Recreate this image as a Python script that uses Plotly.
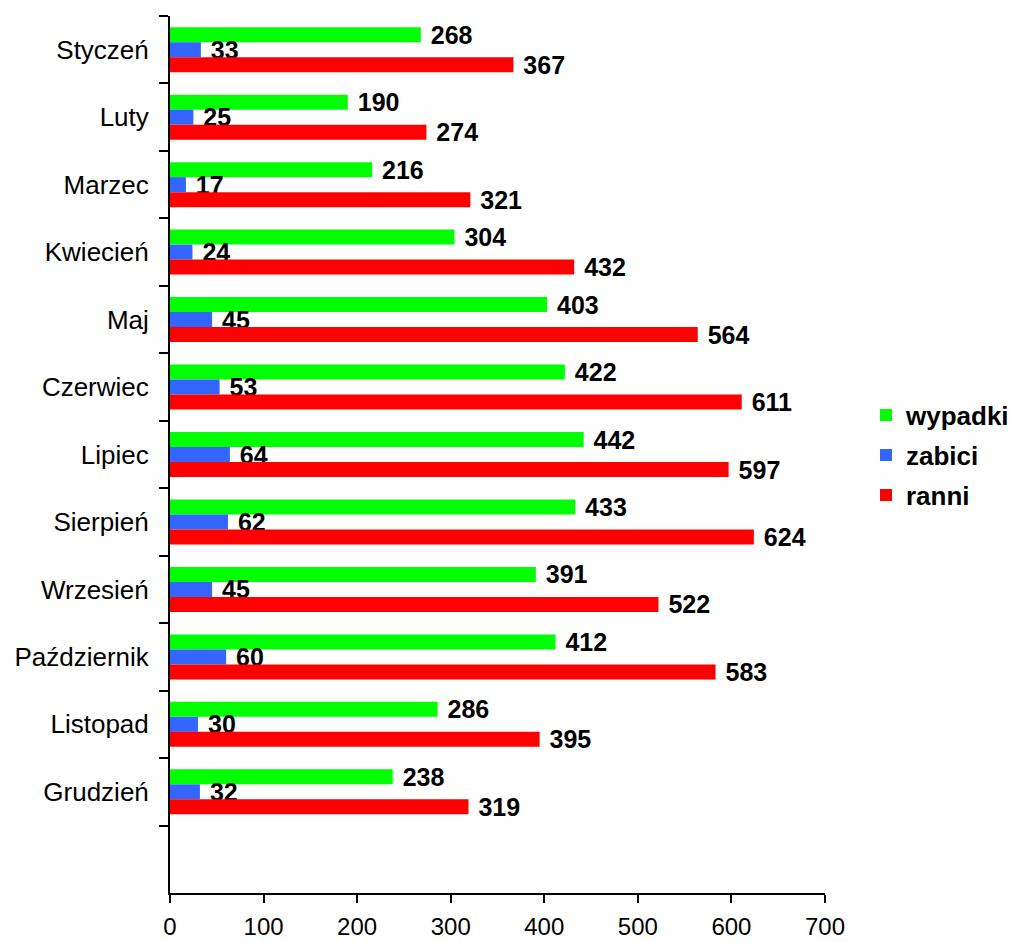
import plotly.graph_objects as go

months = ["Styczeń", "Luty", "Marzec", "Kwiecień", "Maj", "Czerwiec", "Lipiec",
          "Sierpień", "Wrzesień", "Październik", "Listopad", "Grudzień"]
wypadki = [268, 190, 216, 304, 403, 422, 442, 433, 391, 412, 286, 238]
zabici = [33, 25, 17, 24, 45, 53, 64, 62, 45, 60, 30, 32]
ranni = [367, 274, 321, 432, 564, 611, 597, 624, 522, 583, 395, 319]
y_categories = months + [" "]
x_ticks = [0, 100, 200, 300, 400, 500, 600, 700]

FONT = "Liberation Sans, Arial, sans-serif"
series = [("wypadki", wypadki, "#00FF00", "legend"),
          ("zabici", zabici, "#3366FF", "legend2"),
          ("ranni", ranni, "#FF0000", "legend3")]

fig = go.Figure()
for name, vals, color, lg in series:
    fig.add_trace(go.Bar(
        y=months, x=vals, name=name, orientation="h",
        marker=dict(color=color, line=dict(width=0)),
        text=vals, texttemplate="\u00a0%{x}", textposition="outside",
        constraintext="none", cliponaxis=False,
        textfont=dict(family=FONT, size=25, color="black", weight="bold"),
        legend=lg,
    ))

W, H = 1013, 942
l, r, t, b = 170, 188, 16, 49
pw, ph = W - l - r, H - t - b

def ly(py):
    return 1 - (py - t) / ph

leg_common = dict(x=(866 - l) / pw, xanchor="left", yanchor="middle",
                  font=dict(family=FONT, size=26, color="black", weight="bold"),
                  bgcolor="rgba(0,0,0,0)", itemwidth=30)
fig.update_layout(
    width=W, height=H,
    margin=dict(l=l, r=r, t=t, b=b, autoexpand=False),
    paper_bgcolor="white", plot_bgcolor="white",
    barmode="group", bargap=0.333, bargroupgap=0,
    font=dict(family=FONT, size=26, color="black"),
    showlegend=True,
    legend=dict(y=ly(415), **leg_common),
    legend2=dict(y=ly(455), **leg_common),
    legend3=dict(y=ly(495), **leg_common),
    xaxis=dict(range=[0, 700], tickvals=x_ticks, showgrid=False, zeroline=False,
               showline=True, linecolor="black", linewidth=2, automargin=False,
               ticks="outside", ticklen=8, tickwidth=2, tickcolor="black",
               ticklabelstandoff=3,
               tickfont=dict(family=FONT, size=24, color="black")),
    yaxis=dict(type="category", categoryorder="array", categoryarray=y_categories,
               range=[12.5, -0.5], showgrid=False, zeroline=False,
               showline=True, linecolor="black", linewidth=2, automargin=False,
               ticks="outside", ticklen=9, tickwidth=2, tickcolor="black",
               tickson="boundaries", ticklabelstandoff=14,
               tickfont=dict(family=FONT, size=26, color="black")),
)

fig.write_html("out.html", config={"displayModeBar": False},
               post_script="document.body.style.margin='0';document.body.style.overflow='hidden';")
